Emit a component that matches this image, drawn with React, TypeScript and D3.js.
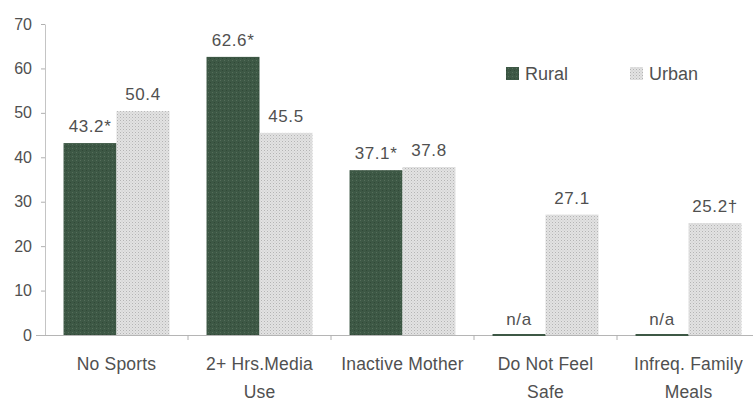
import React, { useRef, useEffect } from "react";
import * as d3 from "d3";

const categories = ["No Sports", "2+ Hrs.Media Use", "Inactive Mother", "Do Not Feel Safe", "Infreq. Family Meals"];
const categoryLines = [["No Sports"], ["2+ Hrs.Media", "Use"], ["Inactive Mother"], ["Do Not Feel", "Safe"], ["Infreq. Family", "Meals"]];
const series = ["Rural", "Urban"];
const ruralValues: (number | null)[] = [43.2, 62.6, 37.1, null, null];
const urbanValues: (number | null)[] = [50.4, 45.5, 37.8, 27.1, 25.2];
const ruralLabels = ["43.2*", "62.6*", "37.1*", "n/a", "n/a"];
const urbanLabels = ["50.4", "45.5", "37.8", "27.1", "25.2†"];
const yTicks = [0, 10, 20, 30, 40, 50, 60, 70];

const W = 753;
const H = 402;
const FONT = "Arial, 'Liberation Sans', sans-serif";
const RURAL = "#3d5845";
const TEXT = "#505050";

export default function App() {
  const svgRef = useRef<SVGSVGElement>(null);

  useEffect(() => {
    if (!svgRef.current) return;
    const svg = d3.select(svgRef.current);
    svg.selectAll("*").remove();

    const defs = svg.append("defs");
    // stippled light fill for urban
    const pat = defs
      .append("pattern")
      .attr("id", "urbanPat")
      .attr("width", 3)
      .attr("height", 3)
      .attr("patternUnits", "userSpaceOnUse");
    pat.append("rect").attr("width", 3).attr("height", 3).attr("fill", "#e2e2e2");
    pat.append("rect").attr("width", 1).attr("height", 1).attr("fill", "#b4b4b4");
    pat.append("rect").attr("x", 1.5).attr("y", 1.5).attr("width", 1).attr("height", 1).attr("fill", "#c6c6c6");
    // mottled dark fill for rural
    const pat2 = defs
      .append("pattern")
      .attr("id", "ruralPat")
      .attr("width", 4)
      .attr("height", 4)
      .attr("patternUnits", "userSpaceOnUse");
    pat2.append("rect").attr("width", 4).attr("height", 4).attr("fill", RURAL);
    pat2.append("rect").attr("width", 1).attr("height", 1).attr("fill", "#566e5b");
    pat2.append("rect").attr("x", 2).attr("y", 2).attr("width", 1).attr("height", 1).attr("fill", "#314837");

    const yScale = d3.scaleLinear().domain([0, 70]).range([335, 24]);
    const xScale = d3.scaleBand<string>().domain(categories).range([45, 760]).paddingInner(0).paddingOuter(0);
    const xSub = d3
      .scaleBand<string>()
      .domain(series)
      .range([0, xScale.bandwidth()])
      .paddingInner(0)
      .paddingOuter(0.35);

    // y axis
    const yAxis = svg
      .append("g")
      .attr("transform", `translate(45,0)`)
      .call(d3.axisLeft(yScale).tickValues(yTicks).tickSize(4).tickSizeOuter(0).tickPadding(9));
    yAxis.select(".domain").attr("stroke", "#c4c4c4");
    yAxis.selectAll(".tick line").attr("stroke", "#b0b0b0");
    yAxis
      .selectAll(".tick text")
      .attr("fill", TEXT)
      .style("font-family", FONT)
      .style("font-size", "16px");

    // x axis
    const base = yScale(0);
    svg
      .append("line")
      .attr("x1", 36)
      .attr("x2", W)
      .attr("y1", base + 0.5)
      .attr("y2", base + 0.5)
      .attr("stroke", "#b5b5b5")
      .attr("stroke-width", 1);
    svg
      .append("g")
      .selectAll("line")
      .data(categories.slice(1))
      .join("line")
      .attr("x1", (d) => xScale(d) as number)
      .attr("x2", (d) => xScale(d) as number)
      .attr("y1", base)
      .attr("y2", base + 5)
      .attr("stroke", "#b0b0b0");

    const seriesData = [
      { key: "Rural", values: ruralValues, labels: ruralLabels, fill: "url(#ruralPat)" },
      { key: "Urban", values: urbanValues, labels: urbanLabels, fill: "url(#urbanPat)" },
    ];

    const valueText = (g: d3.Selection<SVGGElement, unknown, null, undefined>, x: number, y: number, t: string) =>
      g
        .append("text")
        .attr("x", x)
        .attr("y", y)
        .attr("text-anchor", "middle")
        .attr("fill", TEXT)
        .style("font-family", FONT)
        .style("font-size", "17px")
        .style("letter-spacing", "0.6px")
        .text(t);

    seriesData.forEach((s) => {
      const g = svg.append("g");
      categories.forEach((c, i) => {
        const x = (xScale(c) as number) + (xSub(s.key) as number);
        const v = s.values[i];
        if (v == null) {
          g.append("rect")
            .attr("x", x)
            .attr("y", base - 1)
            .attr("width", xSub.bandwidth())
            .attr("height", 2)
            .attr("fill", RURAL);
          valueText(g, x + xSub.bandwidth() / 2, base - 10, s.labels[i]);
          return;
        }
        g.append("rect")
          .attr("x", x)
          .attr("y", yScale(v))
          .attr("width", xSub.bandwidth())
          .attr("height", base - yScale(v))
          .attr("fill", s.fill);
        valueText(g, x + xSub.bandwidth() / 2, yScale(v) - 11, s.labels[i]);
      });
    });

    // category labels
    const xl = svg.append("g");
    categories.forEach((c, i) => {
      const cx = (xScale(c) as number) + xScale.bandwidth() / 2;
      categoryLines[i].forEach((line, j) => {
        xl.append("text")
          .attr("x", cx)
          .attr("y", 370 + j * 28)
          .attr("text-anchor", "middle")
          .attr("fill", TEXT)
          .style("font-family", FONT)
          .style("font-size", "17.5px")
          .style("letter-spacing", "0.2px")
          .text(line);
      });
    });

    // legend
    const legend = svg.append("g");
    const legendX = [506, 630];
    seriesData.forEach((s, i) => {
      legend
        .append("rect")
        .attr("x", legendX[i])
        .attr("y", 67)
        .attr("width", 13)
        .attr("height", 13)
        .attr("fill", s.fill);
      legend
        .append("text")
        .attr("x", legendX[i] + 19)
        .attr("y", 80)
        .attr("fill", TEXT)
        .style("font-family", FONT)
        .style("font-size", "18px")
        .text(s.key);
    });
  }, []);

  return (
    <div style={{ position: "absolute", left: 0, top: 0, width: W, height: H, background: "#fff" }}>
      <svg ref={svgRef} width={W} height={H}></svg>
    </div>
  );
}
